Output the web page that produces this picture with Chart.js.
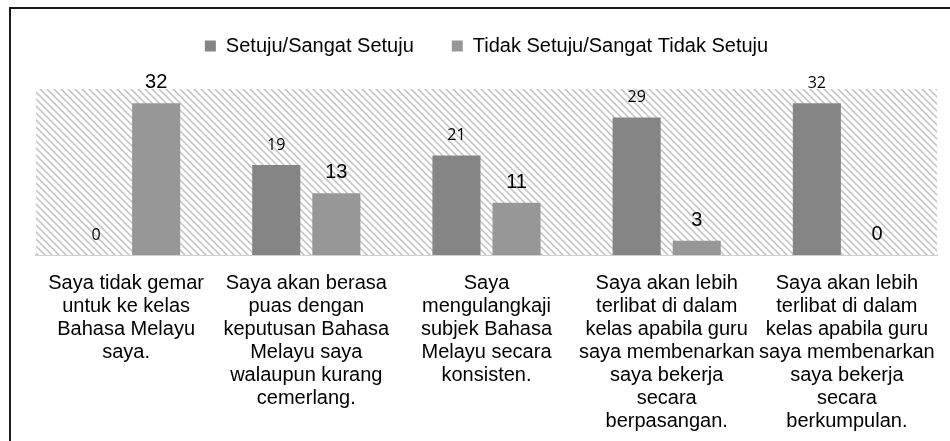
<!DOCTYPE html>
<html>
<head>
<meta charset="utf-8">
<script src="https://cdn.jsdelivr.net/npm/chart.js@4/dist/chart.umd.min.js"></script>
<style>
  html, body { margin: 0; padding: 0; background: #fff; overflow: hidden; }
  .wrap { position: relative; width: 950px; height: 441px; }
  .frame {
    position: absolute; left: 9px; top: 7px; width: 1000px; height: 1000px;
    border: 2px solid #1a1a1a; pointer-events: none;
  }
</style>
</head>
<body>
<div class="wrap">
  <canvas class="myChart" width="950" height="441"></canvas>
  <div class="frame"></div>
</div>
<script>
// categories (pre-wrapped the way the original chart wraps them)
const categories = [
  ["Saya tidak gemar", "untuk ke kelas", "Bahasa Melayu", "saya."],
  ["Saya akan berasa", "puas dengan", "keputusan Bahasa", "Melayu saya", "walaupun kurang", "cemerlang."],
  ["Saya", "mengulangkaji", "subjek Bahasa", "Melayu secara", "konsisten."],
  ["Saya akan lebih", "terlibat di dalam", "kelas apabila guru", "saya membenarkan", "saya bekerja", "secara", "berpasangan."],
  ["Saya akan lebih", "terlibat di dalam", "kelas apabila guru", "saya membenarkan", "saya bekerja", "secara", "berkumpulan."],
];
const setuju = [0, 19, 21, 29, 32];
const tidakSetuju = [32, 13, 11, 3, 0];

const labelFonts = ['16px "Open Sans"', '20px "Liberation Sans"'];

// diagonal hatch behind the plot area
function hatchPattern(ctx) {
  const s = 7;
  const c = document.createElement("canvas");
  c.width = s; c.height = s;
  const g = c.getContext("2d");
  g.fillStyle = "#ffffff";
  g.fillRect(0, 0, s, s);
  g.strokeStyle = "#c8c8c8";
  g.lineWidth = 1.6;
  g.beginPath();
  for (let k = -1; k <= 1; k++) {
    g.moveTo(-1, -1 + k * s);
    g.lineTo(s + 1, s + 1 + k * s);
  }
  g.stroke();
  return ctx.createPattern(c, "repeat");
}

const hatchBg = {
  id: "hatchBg",
  beforeDatasetsDraw(chart) {
    const { ctx, chartArea: a } = chart;
    ctx.save();
    ctx.fillStyle = hatchPattern(ctx);
    ctx.fillRect(a.left, a.top, a.right - a.left, a.bottom - a.top);
    ctx.restore();
  },
};

// extra room between legend and plot
const legendGap = {
  id: "legendGap",
  beforeInit(chart) {
    const fit = chart.legend.fit;
    chart.legend.fit = function () {
      fit.bind(chart.legend)();
      this.height += 23;
    };
  },
};

const valueLabels = {
  id: "valueLabels",
  afterDatasetsDraw(chart) {
    const ctx = chart.ctx;
    chart.data.datasets.forEach((ds, i) => {
      const meta = chart.getDatasetMeta(i);
      ctx.save();
      ctx.font = labelFonts[i];
      ctx.fillStyle = "#000";
      ctx.textAlign = "center";
      ctx.textBaseline = "alphabetic";
      meta.data.forEach((bar, j) => {
        ctx.fillText(String(ds.data[j]), bar.x, bar.y - 15);
      });
      ctx.restore();
    });
  },
};

const ctx = document.querySelector(".myChart");

new Chart(ctx, {
  type: "bar",
  data: {
    labels: categories,
    datasets: [
      {
        label: "Setuju/Sangat Setuju",
        data: setuju,
        backgroundColor: "#858585",
        borderWidth: 0,
      },
      {
        label: "Tidak Setuju/Sangat Tidak Setuju",
        data: tidakSetuju,
        backgroundColor: "#979797",
        borderWidth: 0,
      },
    ],
  },
  options: {
    responsive: false,
    animation: false,
    events: [],
    categoryPercentage: 0.667,
    barPercentage: 0.8,
    layout: {
      padding: { left: 36, right: 13, top: -2, bottom: 0 },
    },
    plugins: {
      tooltip: { enabled: false },
      legend: {
        position: "top",
        labels: {
          boxWidth: 11,
          boxHeight: 11,
          padding: 38,
          color: "#000",
          font: { family: '"Liberation Sans", Arial, sans-serif', size: 20 },
        },
      },
    },
    scales: {
      x: {
        grid: { display: false },
        border: { display: true, color: "#d0d0d0", width: 2 },
        afterFit: (s) => { s.height = 186; },
        ticks: {
          autoSkip: false,
          minRotation: 0,
          maxRotation: 0,
          padding: 9,
          color: "#000",
          font: { family: '"Liberation Sans", Arial, sans-serif', size: 20, lineHeight: 1.15 },
        },
      },
      y: {
        display: false,
        min: 0,
        max: 35,
      },
    },
  },
  plugins: [hatchBg, legendGap, valueLabels],
});
</script>
</body>
</html>
